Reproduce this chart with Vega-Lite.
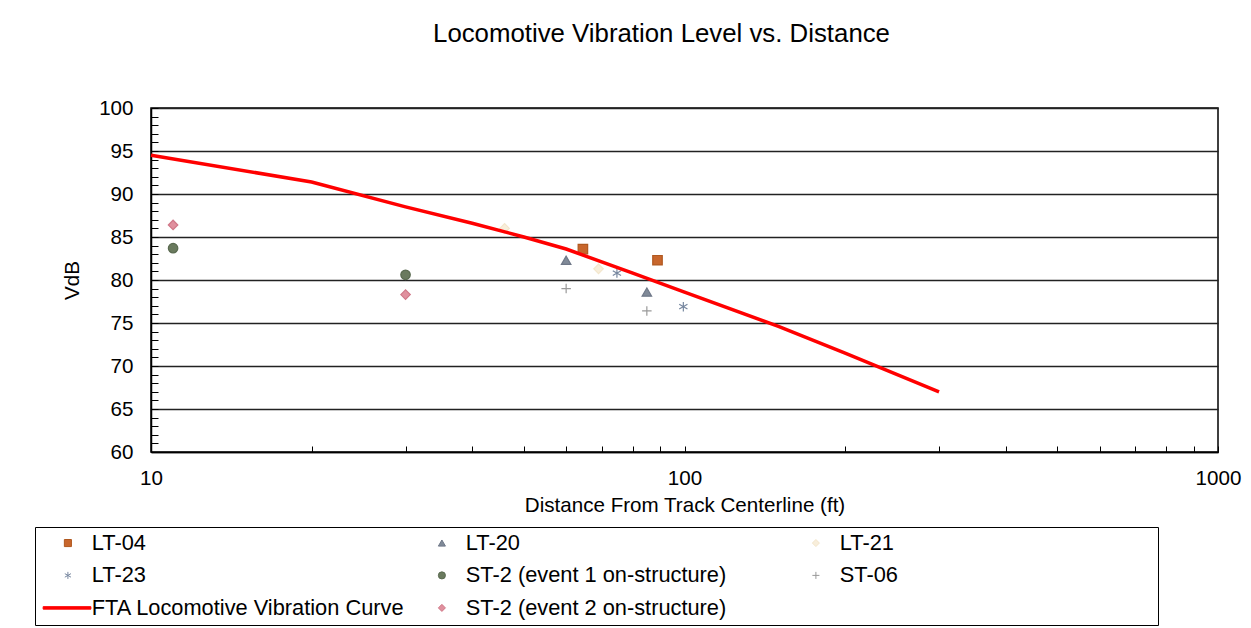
{
  "$schema": "https://vega.github.io/schema/vega-lite/v6.json",
  "width": 1067,
  "height": 344,
  "autosize": {"type": "none"},
  "padding": {"left": 151, "top": 108, "right": 33, "bottom": 176},
  "background": "white",
  "title": {"text": "Locomotive Vibration Level vs. Distance", "fontSize": 25.8, "fontWeight": "normal", "font": "Liberation Sans", "color": "#000000", "anchor": "middle", "dx": -23, "offset": 50},
  "datasets": {
    "curve": [
      {"series": "FTA Locomotive Vibration Curve", "distance": 10, "vdb": 94.5},
      {"series": "FTA Locomotive Vibration Curve", "distance": 20, "vdb": 91.4},
      {"series": "FTA Locomotive Vibration Curve", "distance": 30, "vdb": 88.5},
      {"series": "FTA Locomotive Vibration Curve", "distance": 40, "vdb": 86.6},
      {"series": "FTA Locomotive Vibration Curve", "distance": 50, "vdb": 85.0},
      {"series": "FTA Locomotive Vibration Curve", "distance": 60, "vdb": 83.6},
      {"series": "FTA Locomotive Vibration Curve", "distance": 80, "vdb": 80.8},
      {"series": "FTA Locomotive Vibration Curve", "distance": 100, "vdb": 78.6},
      {"series": "FTA Locomotive Vibration Curve", "distance": 150, "vdb": 74.6},
      {"series": "FTA Locomotive Vibration Curve", "distance": 200, "vdb": 71.5},
      {"series": "FTA Locomotive Vibration Curve", "distance": 300, "vdb": 67.0}
    ],
    "points": [
      {"series": "LT-21", "distance": 46, "vdb": 86.0},
      {"series": "LT-21", "distance": 69, "vdb": 81.3},
      {"series": "LT-04", "distance": 64.5, "vdb": 83.6},
      {"series": "LT-04", "distance": 89, "vdb": 82.3},
      {"series": "LT-20", "distance": 60, "vdb": 82.3},
      {"series": "LT-20", "distance": 85, "vdb": 78.6},
      {"series": "ST-06", "distance": 60, "vdb": 79.0},
      {"series": "ST-06", "distance": 85, "vdb": 76.4},
      {"series": "LT-23", "distance": 74.7, "vdb": 80.8},
      {"series": "LT-23", "distance": 99.5, "vdb": 76.9},
      {"series": "LT-23", "distance": 30, "vdb": 80.6},
      {"series": "ST-2 (event 1 on-structure)", "distance": 11, "vdb": 83.7},
      {"series": "ST-2 (event 1 on-structure)", "distance": 30, "vdb": 80.6},
      {"series": "ST-2 (event 2 on-structure)", "distance": 11, "vdb": 86.4},
      {"series": "ST-2 (event 2 on-structure)", "distance": 30, "vdb": 78.3}
    ]
  },
  "encoding": {
    "x": {
      "field": "distance", "type": "quantitative",
      "title": "Distance From Track Centerline  (ft)",
      "scale": {"type": "log", "domain": [10, 1000], "nice": false},
      "axis": {
        "values": [10, 20, 30, 40, 50, 60, 70, 80, 90, 100, 200, 300, 400, 500, 600, 700, 800, 900, 1000],
        "labelExpr": "indexof([10, 100, 1000], datum.value) >= 0 ? format(datum.value, 'd') : ''",
        "labelOverlap": false,
        "labelFlush": false,
        "grid": false,
        "tickSize": -6,
        "labelPadding": 22,
        "titlePadding": 7
      }
    },
    "y": {
      "field": "vdb", "type": "quantitative",
      "title": "VdB",
      "scale": {"domain": [60, 100], "nice": false, "zero": false},
      "axis": {
        "values": [60, 61, 62, 63, 64, 65, 66, 67, 68, 69, 70, 71, 72, 73, 74, 75, 76, 77, 78, 79, 80, 81, 82, 83, 84, 85, 86, 87, 88, 89, 90, 91, 92, 93, 94, 95, 96, 97, 98, 99, 100],
        "labelExpr": "datum.value % 5 === 0 ? datum.label : ''",
        "labelOverlap": false,
        "labelFlush": false,
        "grid": true,
        "gridColor": "#222222",
        "gridWidth": 1.4,
        "gridOpacity": {"condition": {"test": "datum.value % 5 === 0", "value": 1}, "value": 0},
        "tickSize": -7,
        "labelPadding": 25,
        "titlePadding": 16
      }
    }
  },
  "layer": [
    {
      "data": {"name": "points"},
      "mark": {"type": "point", "filled": true, "size": 90, "strokeWidth": 1.2, "opacity": 1},
      "encoding": {
        "color": {
          "field": "series", "type": "nominal",
          "scale": {
            "domain": ["LT-04", "LT-20", "LT-21", "LT-23", "ST-2 (event 1 on-structure)", "ST-06", "FTA Locomotive Vibration Curve", "ST-2 (event 2 on-structure)"],
            "range": ["#c8662c", "#808a98", "#f8eedb", "#8a98b0", "#6a7a5e", "#a6a6a6", "#ff0000", "#e0909e"]
          },
          "legend": {
            "title": "\u200b\u00a0\u00a0\u00a0\u00a0\u00a0\u00a0\u00a0\u00a0\u00a0\u00a0\u00a0\u00a0\u00a0\u00a0\u00a0\u00a0\u00a0\u00a0\u00a0\u00a0\u00a0\u00a0\u00a0\u00a0\u00a0\u00a0\u00a0\u00a0\u00a0\u00a0\u00a0\u00a0\u00a0\u00a0\u00a0\u00a0\u00a0\u00a0\u00a0\u00a0\u00a0\u00a0\u200b",
            "titleOrient": "right",
            "titleFontSize": 21.8,
            "titleFont": "Liberation Sans",
            "titlePadding": 0,
            "titleLimit": 600,
            "orient": "none",
            "legendX": -116,
            "legendY": 419,
            "direction": "horizontal",
            "columns": 3,
            "gridAlign": "all",
            "columnPadding": 9,
            "rowPadding": 9.5,
            "padding": 5,
            "strokeColor": "#000000",
            "fillColor": "#ffffff",
            "labelFontSize": 21.8,
            "labelFont": "Liberation Sans",
            "labelColor": "#000000",
            "labelOffset": 13,
            "symbolOffset": 17,
            "labelLimit": 800,
            "symbolSize": 50,
            "symbolStrokeWidth": 1
          }
        },
        "stroke": {
          "field": "series", "type": "nominal",
          "scale": {
            "domain": ["LT-04", "LT-20", "LT-21", "LT-23", "ST-2 (event 1 on-structure)", "ST-06", "FTA Locomotive Vibration Curve", "ST-2 (event 2 on-structure)"],
            "range": ["#b0581f", "#6f7888", "#f3e6cc", "#7888a0", "#5a6a50", "#9a9a9a", "#ff0000", "#d07888"]
          }
        },
        "shape": {
          "field": "series", "type": "nominal",
          "scale": {
            "domain": ["LT-04", "LT-20", "LT-21", "LT-23", "ST-2 (event 1 on-structure)", "ST-06", "FTA Locomotive Vibration Curve", "ST-2 (event 2 on-structure)"],
            "range": ["square", "triangle-up", "diamond", "M0,-1L0,1M-0.87,-0.5L0.87,0.5M-0.87,0.5L0.87,-0.5", "circle", "M-1,0L1,0M0,-1L0,1", "M-7,-0.35L6.5,-0.35L6.5,0.35L-7,0.35Z", "diamond"]
          }
        }
      }
    },
    {
      "data": {"name": "curve"},
      "mark": {"type": "line", "strokeWidth": 3.5},
      "encoding": {
        "stroke": {
          "field": "series", "type": "nominal",
          "scale": {
            "domain": ["LT-04", "LT-20", "LT-21", "LT-23", "ST-2 (event 1 on-structure)", "ST-06", "FTA Locomotive Vibration Curve", "ST-2 (event 2 on-structure)"],
            "range": ["#b0581f", "#6f7888", "#f3e6cc", "#7888a0", "#5a6a50", "#9a9a9a", "#ff0000", "#d07888"]
          }
        }
      }
    }
  ],
  "config": {
    "font": "Liberation Sans",
    "view": {"stroke": "#000000", "strokeWidth": 1.5},
    "axis": {
      "labelFontSize": 20.6,
      "titleFontSize": 20.6,
      "labelFont": "Liberation Sans",
      "titleFont": "Liberation Sans",
      "labelColor": "#000000",
      "titleColor": "#000000",
      "titleFontWeight": "normal",
      "domainColor": "#000000",
      "domainWidth": 1.5,
      "tickColor": "#000000",
      "tickWidth": 1
    }
  }
}
